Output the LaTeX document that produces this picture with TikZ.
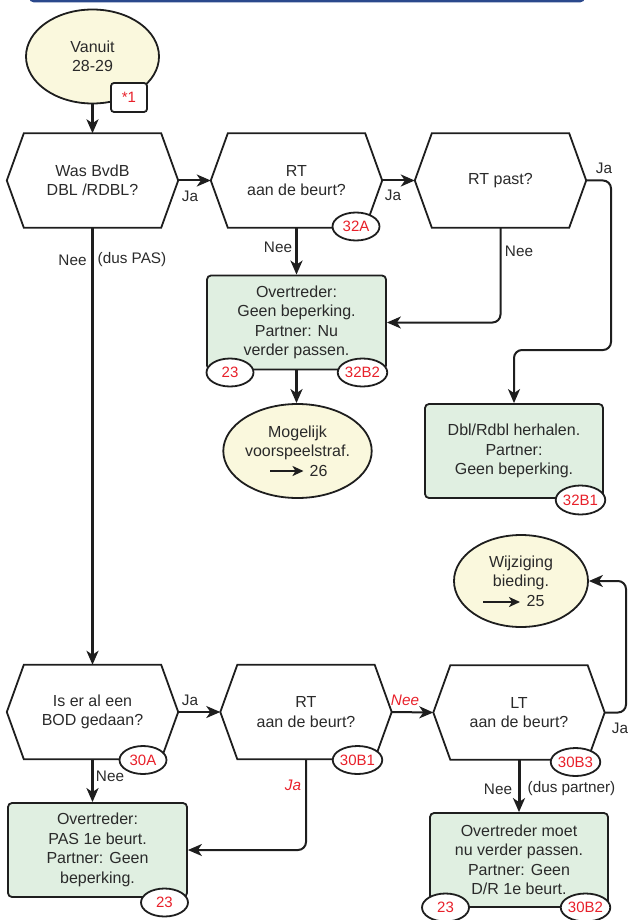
\documentclass[tikz,border=0pt]{standalone}
\usepackage{fontspec}
\setmainfont{Liberation Sans}
\usetikzlibrary{shapes.geometric, arrows.meta}

\definecolor{termyellow}{RGB}{250,248,221}
\definecolor{boxgreen}{RGB}{224,239,225}
\definecolor{tagred}{RGB}{232,32,42}
\definecolor{linegray}{RGB}{30,30,30}
\definecolor{textgray}{RGB}{42,42,42}
\definecolor{barblue}{RGB}{42,72,140}

\newcommand{\boxfont}{\fontsize{16}{19.5}\selectfont}
\newcommand{\labelfont}{\fontsize{15.3}{18}\selectfont}
\newcommand{\tagfont}{\fontsize{15}{17}\selectfont}

\begin{document}
\begin{tikzpicture}[x=1pt, y=-1pt,
    decision/.style={rectangle, minimum width=171pt, minimum height=94pt, inner sep=0pt, align=center, font=\boxfont, text=textgray},
    hexline/.style={draw=linegray, line width=1.8pt, line join=miter},
    action/.style={rectangle, draw=linegray, line width=1.8pt, rounded corners=4pt, fill=boxgreen, minimum width=179pt, minimum height=94pt, inner sep=0pt, align=center, font=\boxfont, text=textgray},
    terminal/.style={ellipse, draw=linegray, line width=1.8pt, fill=termyellow, minimum width=133pt, minimum height=94pt, inner sep=0pt, align=center, font=\boxfont, text=textgray},
    tag/.style={ellipse, draw=linegray, line width=1.8pt, fill=white, minimum width=47pt, minimum height=28pt, inner sep=0pt, font=\tagfont, text=tagred},
    flow/.style={-{Stealth[length=14pt, width=12pt, inset=4pt]}, draw=linegray, line width=2pt},
    mainflow/.style={flow, line width=3pt},
    innerarrow/.style={-{Stealth[length=11pt, width=10pt, inset=3pt]}, draw=linegray, line width=2.5pt},
    sidelabel/.style={font=\labelfont, text=textgray, inner sep=0pt},
    redlabel/.style={font=\labelfont\itshape, text=tagred, inner sep=0pt}
]
\useasboundingbox (0,0) rectangle (628,920);

% Header bar (cut off)
\fill[barblue, rounded corners=5pt] (29,-20) rectangle (585,2.5);

% Start
\node[terminal] (start) at (92.5,56.5) {Vanuit\\28-29};
\node[rectangle, draw=linegray, line width=1.8pt, rounded corners=3pt, fill=white, minimum width=36pt, minimum height=29pt, font=\tagfont, text=tagred] (star) at (129,97.5) {*1};

% Questions
\node[decision] (q1) at (92.5,180.5) {Was BvdB\\DBL /RDBL?};
\node[decision] (q2) at (296.5,180.5) {RT\\aan de beurt?};
\node[decision] (q3) at (500.5,180.5) {RT past?};
\node[decision] (q4) at (92.5,712) {Is er al een\\BOD gedaan?};
\node[decision] (q5) at (306,712) {RT\\aan de beurt?};
\node[decision] (q6) at (519,712.5) {LT\\aan de beurt?};

\foreach \h in {q1,q2,q3,q4,q5,q6}
  \draw[hexline] ([xshift=17pt]\h.north west) -- ([xshift=-17pt]\h.north east) -- (\h.east)
    -- ([xshift=-17pt]\h.south east) -- ([xshift=17pt]\h.south west) -- (\h.west) -- cycle;

% Actions
\node[action] (bA) at (296.5,322.5) {Overtreder:\\Geen beperking.\\Partner: Nu\\verder passen.};
\node[action, minimum width=178pt] (bB) at (514,451) {Dbl/Rdbl herhalen.\\Partner:\\Geen beperking.};
\node[action] (bC) at (97.5,850) {Overtreder:\\PAS 1e beurt.\\Partner: Geen\\beperking.};
\node[action, minimum width=178pt] (bD) at (519,860) {Overtreder moet\\nu verder passen.\\Partner: Geen\\D/R 1e beurt.};

% End points
\node[terminal, minimum width=131pt] (mog) at (297.5,451) {Mogelijk\\voorspeelstraf.\\\hspace*{42pt}26};
\node[terminal, minimum width=134pt, minimum height=92pt] (wijz) at (521,581) {Wijziging\\bieding.\\\hspace*{44pt}25\hspace*{15pt}};
\draw[innerarrow] ([xshift=-27.5pt, yshift=-20pt]mog.center) -- ++(33.5,0);
\draw[innerarrow] ([xshift=-38pt, yshift=-21pt]wijz.center) -- ++(37,0);

% Connectors
\coordinate (jaR) at (611,350);
\coordinate (jaW) at (626,581);

\draw[mainflow] (start.south) -- (q1.north);
\draw[flow] (q1.east) -- (q2.west);
\draw[flow] (q2.east) -- (q3.west);
\draw[flow, rounded corners=8pt] (q3.east) -| (jaR) -| (bB.north);
\draw[mainflow] (q2.south) -- (bA.north);
\draw[flow, rounded corners=8pt] (q3.south) |- (bA.east);
\draw[mainflow] (bA.south) -- (bA.south |- mog.north);
\draw[mainflow] (q1.south) -- (q4.north);
\draw[flow] (q4.east) -- (q5.west);
\draw[flow] (q5.east) -- (q6.west);
\draw[flow, rounded corners=8pt] (q6.east) -| (jaW) -- (wijz.east);
\draw[flow, rounded corners=8pt] (q5.south) |- (bC.east);
\draw[mainflow] (q4.south) -- (q4.south |- bC.north);
\draw[mainflow] (q6.south) -- (bD.north);

% Connector labels
\node[sidelabel] (ja1) at (190,196) {Ja};
\node[sidelabel] (ja2) at (393,195) {Ja};
\node[sidelabel] (ja3) at (604,168) {Ja};
\node[sidelabel] (nee1) at (72.5,260) {Nee};
\node[sidelabel] (dus1) at (132,260) {(dus PAS)};
\node[sidelabel] (nee2) at (278,247) {Nee};
\node[sidelabel] (nee3) at (519,251) {Nee};
\node[sidelabel] (ja4) at (190,700) {Ja};
\node[redlabel] (nee5) at (405,700) {Nee};
\node[sidelabel] (ja6) at (620,728) {Ja};
\node[redlabel] (ja5) at (293,785) {Ja};
\node[sidelabel] (nee4) at (110,776) {Nee};
\node[sidelabel] (nee6) at (498,789) {Nee};
\node[sidelabel] (dus6) at (571.5,789) {(dus partner)};

% Reference tags
\node[tag] (t32A) at (356,226.5) {32A};
\node[tag] (t23a) at (230,372.5) {23};
\node[tag, minimum width=49pt] (t32B2) at (362.5,372.5) {32B2};
\node[tag, minimum width=49pt, minimum height=29pt] (t32B1) at (580.5,500) {32B1};
\node[tag] (t30A) at (143,760) {30A};
\node[tag, minimum width=49pt] (t30B1) at (357.5,760) {30B1};
\node[tag, minimum width=49pt] (t30B3) at (575.5,762) {30B3};
\node[tag] (t23c) at (164.5,902.5) {23};
\node[tag] (t23d) at (445.5,907.5) {23};
\node[tag, minimum width=49pt] (t30B2) at (585.5,907.5) {30B2};

\end{tikzpicture}
\end{document}
